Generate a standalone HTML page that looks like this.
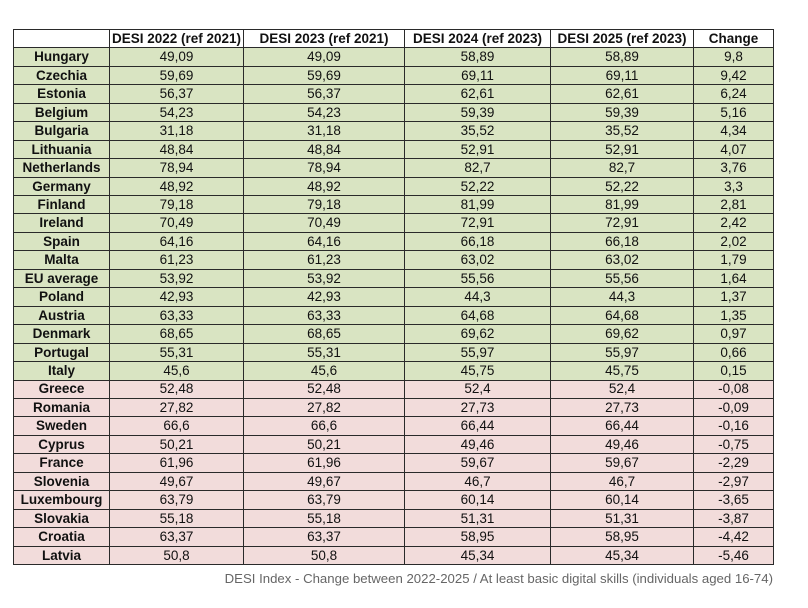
<!DOCTYPE html>
<html><head><meta charset="utf-8"><style>
html,body{margin:0;padding:0;background:#fff;}
body{width:808px;height:608px;position:relative;overflow:hidden;font-family:"Liberation Sans",Arial,sans-serif;}
.g{position:absolute;left:13px;top:29px;width:761px;height:536px;box-sizing:border-box;background:#2a2a2a;padding:1px;display:grid;gap:1px;
grid-template-columns:95px 133px 160px 145px 142px 79px;grid-template-rows:repeat(29,1fr);}
.g div{display:flex;align-items:center;justify-content:center;font-size:13.5px;color:#111;line-height:1;white-space:nowrap;}
.g div.n{font-weight:bold;}
.gr{background:#d9e4c2;}
.pk{background:#f2dcdb;}
.cap{position:absolute;right:35px;top:571px;font-size:13.2px;color:#666;white-space:nowrap;}
</style></head><body>
<div class="g">
<div style="background:#fff"></div><div style="background:#fff;font-weight:bold">DESI 2022 (ref 2021)</div><div style="background:#fff;font-weight:bold">DESI 2023 (ref 2021)</div><div style="background:#fff;font-weight:bold">DESI 2024 (ref 2023)</div><div style="background:#fff;font-weight:bold">DESI 2025 (ref 2023)</div><div style="background:#fff;font-weight:bold">Change</div>
<div class="gr n">Hungary</div><div class="gr">49,09</div><div class="gr">49,09</div><div class="gr">58,89</div><div class="gr">58,89</div><div class="gr">9,8</div>
<div class="gr n">Czechia</div><div class="gr">59,69</div><div class="gr">59,69</div><div class="gr">69,11</div><div class="gr">69,11</div><div class="gr">9,42</div>
<div class="gr n">Estonia</div><div class="gr">56,37</div><div class="gr">56,37</div><div class="gr">62,61</div><div class="gr">62,61</div><div class="gr">6,24</div>
<div class="gr n">Belgium</div><div class="gr">54,23</div><div class="gr">54,23</div><div class="gr">59,39</div><div class="gr">59,39</div><div class="gr">5,16</div>
<div class="gr n">Bulgaria</div><div class="gr">31,18</div><div class="gr">31,18</div><div class="gr">35,52</div><div class="gr">35,52</div><div class="gr">4,34</div>
<div class="gr n">Lithuania</div><div class="gr">48,84</div><div class="gr">48,84</div><div class="gr">52,91</div><div class="gr">52,91</div><div class="gr">4,07</div>
<div class="gr n">Netherlands</div><div class="gr">78,94</div><div class="gr">78,94</div><div class="gr">82,7</div><div class="gr">82,7</div><div class="gr">3,76</div>
<div class="gr n">Germany</div><div class="gr">48,92</div><div class="gr">48,92</div><div class="gr">52,22</div><div class="gr">52,22</div><div class="gr">3,3</div>
<div class="gr n">Finland</div><div class="gr">79,18</div><div class="gr">79,18</div><div class="gr">81,99</div><div class="gr">81,99</div><div class="gr">2,81</div>
<div class="gr n">Ireland</div><div class="gr">70,49</div><div class="gr">70,49</div><div class="gr">72,91</div><div class="gr">72,91</div><div class="gr">2,42</div>
<div class="gr n">Spain</div><div class="gr">64,16</div><div class="gr">64,16</div><div class="gr">66,18</div><div class="gr">66,18</div><div class="gr">2,02</div>
<div class="gr n">Malta</div><div class="gr">61,23</div><div class="gr">61,23</div><div class="gr">63,02</div><div class="gr">63,02</div><div class="gr">1,79</div>
<div class="gr n">EU average</div><div class="gr">53,92</div><div class="gr">53,92</div><div class="gr">55,56</div><div class="gr">55,56</div><div class="gr">1,64</div>
<div class="gr n">Poland</div><div class="gr">42,93</div><div class="gr">42,93</div><div class="gr">44,3</div><div class="gr">44,3</div><div class="gr">1,37</div>
<div class="gr n">Austria</div><div class="gr">63,33</div><div class="gr">63,33</div><div class="gr">64,68</div><div class="gr">64,68</div><div class="gr">1,35</div>
<div class="gr n">Denmark</div><div class="gr">68,65</div><div class="gr">68,65</div><div class="gr">69,62</div><div class="gr">69,62</div><div class="gr">0,97</div>
<div class="gr n">Portugal</div><div class="gr">55,31</div><div class="gr">55,31</div><div class="gr">55,97</div><div class="gr">55,97</div><div class="gr">0,66</div>
<div class="gr n">Italy</div><div class="gr">45,6</div><div class="gr">45,6</div><div class="gr">45,75</div><div class="gr">45,75</div><div class="gr">0,15</div>
<div class="pk n">Greece</div><div class="pk">52,48</div><div class="pk">52,48</div><div class="pk">52,4</div><div class="pk">52,4</div><div class="pk">-0,08</div>
<div class="pk n">Romania</div><div class="pk">27,82</div><div class="pk">27,82</div><div class="pk">27,73</div><div class="pk">27,73</div><div class="pk">-0,09</div>
<div class="pk n">Sweden</div><div class="pk">66,6</div><div class="pk">66,6</div><div class="pk">66,44</div><div class="pk">66,44</div><div class="pk">-0,16</div>
<div class="pk n">Cyprus</div><div class="pk">50,21</div><div class="pk">50,21</div><div class="pk">49,46</div><div class="pk">49,46</div><div class="pk">-0,75</div>
<div class="pk n">France</div><div class="pk">61,96</div><div class="pk">61,96</div><div class="pk">59,67</div><div class="pk">59,67</div><div class="pk">-2,29</div>
<div class="pk n">Slovenia</div><div class="pk">49,67</div><div class="pk">49,67</div><div class="pk">46,7</div><div class="pk">46,7</div><div class="pk">-2,97</div>
<div class="pk n">Luxembourg</div><div class="pk">63,79</div><div class="pk">63,79</div><div class="pk">60,14</div><div class="pk">60,14</div><div class="pk">-3,65</div>
<div class="pk n">Slovakia</div><div class="pk">55,18</div><div class="pk">55,18</div><div class="pk">51,31</div><div class="pk">51,31</div><div class="pk">-3,87</div>
<div class="pk n">Croatia</div><div class="pk">63,37</div><div class="pk">63,37</div><div class="pk">58,95</div><div class="pk">58,95</div><div class="pk">-4,42</div>
<div class="pk n">Latvia</div><div class="pk">50,8</div><div class="pk">50,8</div><div class="pk">45,34</div><div class="pk">45,34</div><div class="pk">-5,46</div>
</div>
<div class="cap">DESI Index - Change between 2022-2025 / At least basic digital skills (individuals aged 16-74)</div>
</body></html>
